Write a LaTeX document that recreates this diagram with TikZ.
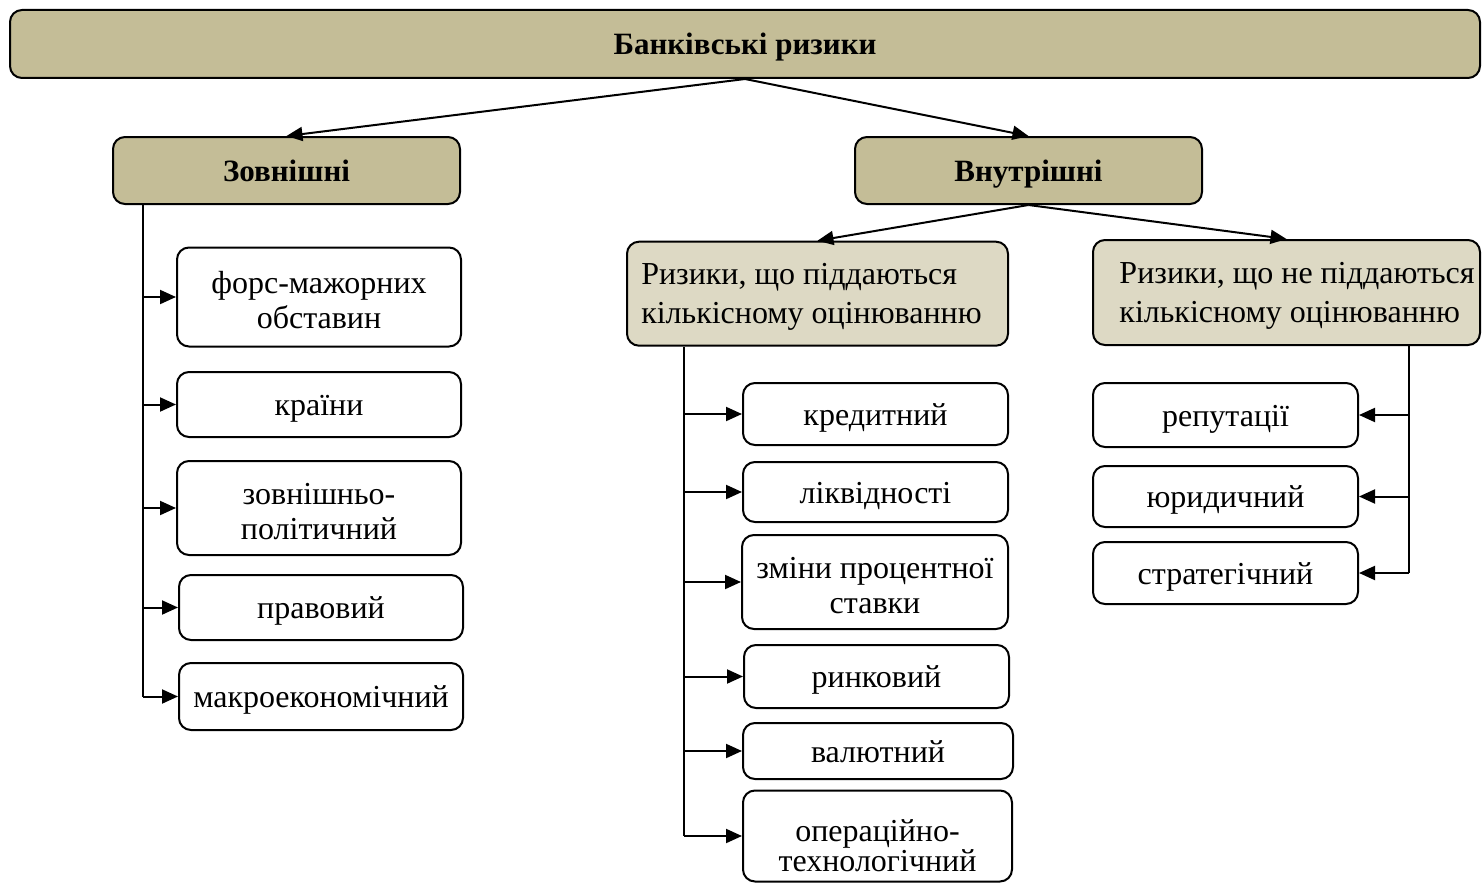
\documentclass[tikz,border=0pt]{standalone}
\usepackage{fontspec}
\setmainfont{Liberation Serif}
\usetikzlibrary{arrows.meta}
\definecolor{tandark}{RGB}{196,189,151}
\definecolor{tanlight}{RGB}{221,217,196}
\begin{document}
\begin{tikzpicture}[x=1pt,y=-1pt,
  frame/.style={draw=black, line width=2pt, rounded corners=12pt, inner sep=0pt},
  box/.style={frame, align=center, font=\fontsize{32}{35}\selectfont,
    text height=23pt, text depth=1pt},
  twoline/.style={frame, align=center, font=\fontsize{32}{35}\selectfont,
    text height=62pt, text depth=0pt},
  headbox/.style={frame, fill=tandark, font=\fontsize{31}{36}\selectfont\bfseries,
    text height=21pt, text depth=0pt},
  groupbox/.style={frame, fill=tanlight, align=left, font=\fontsize{32}{38.5}\selectfont,
    text height=59.5pt, text depth=0pt},
  link/.style={line width=2pt},
  arr/.style={link, -{Triangle[length=16pt,width=14pt]}}]
\useasboundingbox (0,0) rectangle (1484,883);

% top level
\node[headbox, minimum width=1470pt, minimum height=68pt] (top) at (745,44) {Банківські ризики};
\node[headbox, minimum width=347pt, minimum height=67pt] (ext) at (286.5,170.5) {Зовнішні};
\node[headbox, minimum width=347pt, minimum height=67pt] (int) at (1028.5,170.5) {Внутрішні};

% internal groups (text block set slightly off-centre)
\node[groupbox, minimum width=381pt, minimum height=104pt] (qa) at (817.5,293.7) {Ризики, що піддаються\\кількісному оцінюванню\hspace*{12pt}};
\node[groupbox, minimum width=387pt, minimum height=105pt] (qn) at (1286.5,292.5) {\hspace*{21pt}Ризики, що не піддаються\\\hspace*{21pt}кількісному оцінюванню};

% external risks
\node[twoline, minimum width=284pt, minimum height=99pt] (a1) at (319,297) {форс-мажорних\\обставин};
\node[box, minimum width=284pt, minimum height=65pt] (a2) at (319,404.5) {країни};
\node[twoline, minimum width=284pt, minimum height=94pt] (a3) at (319,508) {зовнішньо-\\політичний};
\node[box, minimum width=284pt, minimum height=65pt] (a4) at (321,607.5) {правовий};
\node[box, minimum width=284pt, minimum height=67pt] (a5) at (321,696.5) {макроекономічний};

% quantifiable risks
\node[box, minimum width=265pt, minimum height=62pt] (b1) at (875.5,414) {кредитний};
\node[box, minimum width=265pt, minimum height=60pt] (b2) at (875.5,492) {ліквідності};
\node[twoline, minimum width=266pt, minimum height=94pt] (b3) at (875,582) {зміни процентної\\ставки};
\node[box, minimum width=265pt, minimum height=63pt] (b4) at (876.5,676.5) {ринковий};
\node[box, minimum width=270pt, minimum height=56pt] (b5) at (878,751) {валютний};
\node[twoline, font=\fontsize{32}{28}\selectfont, text height=70pt,
      minimum width=269pt, minimum height=91pt] (b6) at (877.5,836) {операційно-\\технологічний};

% non-quantifiable risks
\node[box, minimum width=265pt, minimum height=64pt] (c1) at (1225.5,415) {репутації};
\node[box, minimum width=265pt, minimum height=61pt] (c2) at (1225.5,496.5) {юридичний};
\node[box, minimum width=265pt, minimum height=62pt] (c3) at (1225.5,573) {стратегічний};

% tree connectors
\draw[arr] (top.south) -- (ext.north);
\draw[arr] (top.south) -- (int.north);
\draw[arr] (int.south) -- (qa.north);
\draw[arr] (int.south) -- (qn.north);

% spines
\coordinate (sa) at (143,204);
\coordinate (sb) at (684,347);
\coordinate (sc) at (1409,346);
\draw[link] (sa) -- (sa |- a5.west);
\draw[link] (sb) -- (sb |- b6.west);
\draw[link] (sc) -- (sc |- c3.east);

\foreach \n in {a1,a2,a3,a4,a5} \draw[arr] (sa |- \n.west) -- (\n.west);
\foreach \n in {b1,b2,b3,b4,b5,b6} \draw[arr] (sb |- \n.west) -- (\n.west);
\foreach \n in {c1,c2,c3} \draw[arr] (sc |- \n.east) -- (\n.east);
\end{tikzpicture}
\end{document}
